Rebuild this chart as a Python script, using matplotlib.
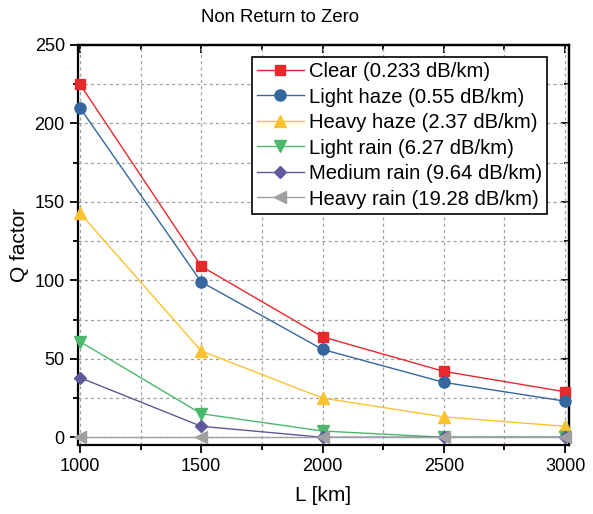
import matplotlib
matplotlib.use("Agg")
import matplotlib.pyplot as plt
from matplotlib.ticker import MultipleLocator

plt.rcParams['font.family'] = ['Liberation Sans', 'DejaVu Sans']

# fibre length [km]
L_km = [1000, 1500, 2000, 2500, 3000]

clear = [225, 109, 64, 42, 29]
light_haze = [210, 99, 56, 35, 23]
heavy_haze = [143, 55, 25, 13, 7]
light_rain = [61, 15, 4, 0, 0]
medium_rain = [38, 7, 0, 0, 0]
heavy_rain = [0, 0, 0, 0, 0]

labels = ["Clear (0.233 dB/km)", "Light haze (0.55 dB/km)", "Heavy haze (2.37 dB/km)",
          "Light rain (6.27 dB/km)", "Medium rain (9.64 dB/km)", "Heavy rain (19.28 dB/km)"]

fig = plt.figure(figsize=(5.93, 5.14), dpi=100)
ax = fig.add_axes([0.1315, 0.134, 0.828, 0.7785])

series = [clear, light_haze, heavy_haze, light_rain, medium_rain, heavy_rain]
colors = ['#E8282A', '#34679E', '#F9C230', '#4CB86B', '#5E5A9B', '#A0A0A0']
markers = ['s', 'o', '^', 'v', 'D', '<']
sizes = [7, 8, 8.5, 8.5, 6.5, 8.5]

for y, c, m, ms, lab in zip(series, colors, markers, sizes, labels):
    ax.plot(L_km, y, color=c, marker=m, ms=ms, lw=1, label=lab, clip_on=False, zorder=3)

ax.set_xlim(992, 3016)
ax.set_ylim(-5, 250)
ax.xaxis.set_major_locator(MultipleLocator(500))
ax.xaxis.set_minor_locator(MultipleLocator(250))
ax.yaxis.set_major_locator(MultipleLocator(50))
ax.yaxis.set_minor_locator(MultipleLocator(25))

ax.grid(True, which='both', linestyle=(0, (2.5, 2.5)), color='#A0A0A0', lw=0.9)
ax.set_axisbelow(True)

ax.tick_params(which='both', direction='out', top=False, right=False, labelsize=13, width=1.3)
ax.tick_params(which='major', length=6)
ax.tick_params(which='minor', length=3.5)
# inward ticks on the top and right edges
ax2 = ax.secondary_xaxis('top')
ax2.xaxis.set_major_locator(MultipleLocator(500))
ax2.xaxis.set_minor_locator(MultipleLocator(250))
ax2.tick_params(which='both', direction='in', labeltop=False, width=1.3)
ax2.tick_params(which='major', length=6)
ax2.tick_params(which='minor', length=3.5)
ax3 = ax.secondary_yaxis('right')
ax3.yaxis.set_major_locator(MultipleLocator(50))
ax3.yaxis.set_minor_locator(MultipleLocator(25))
ax3.tick_params(which='both', direction='in', labelright=False, width=1.3)
ax3.tick_params(which='major', length=6)
ax3.tick_params(which='minor', length=3.5)

for s in ax.spines.values():
    s.set_linewidth(1.6)
ax2.spines['top'].set_linewidth(1.6)
ax3.spines['right'].set_linewidth(1.6)

ax.set_xlabel("L [km]", fontsize=15, labelpad=8)
ax.set_ylabel("Q factor", fontsize=15, labelpad=4)
fig.text(280 / 593, 1 - 18 / 514, "Non Return to Zero", fontsize=13.3, ha='center', va='center')

leg = ax.legend(loc='upper right', fontsize=14.6, frameon=True, fancybox=False,
                edgecolor='black', framealpha=1, borderpad=0.25, labelspacing=0.32,
                handlelength=2.3, handletextpad=0.25, borderaxespad=0,
                bbox_to_anchor=(547 / 593, 1 - 57 / 514), bbox_transform=fig.transFigure)
leg.get_frame().set_linewidth(1.2)

fig.savefig("out.png", dpi=100)
